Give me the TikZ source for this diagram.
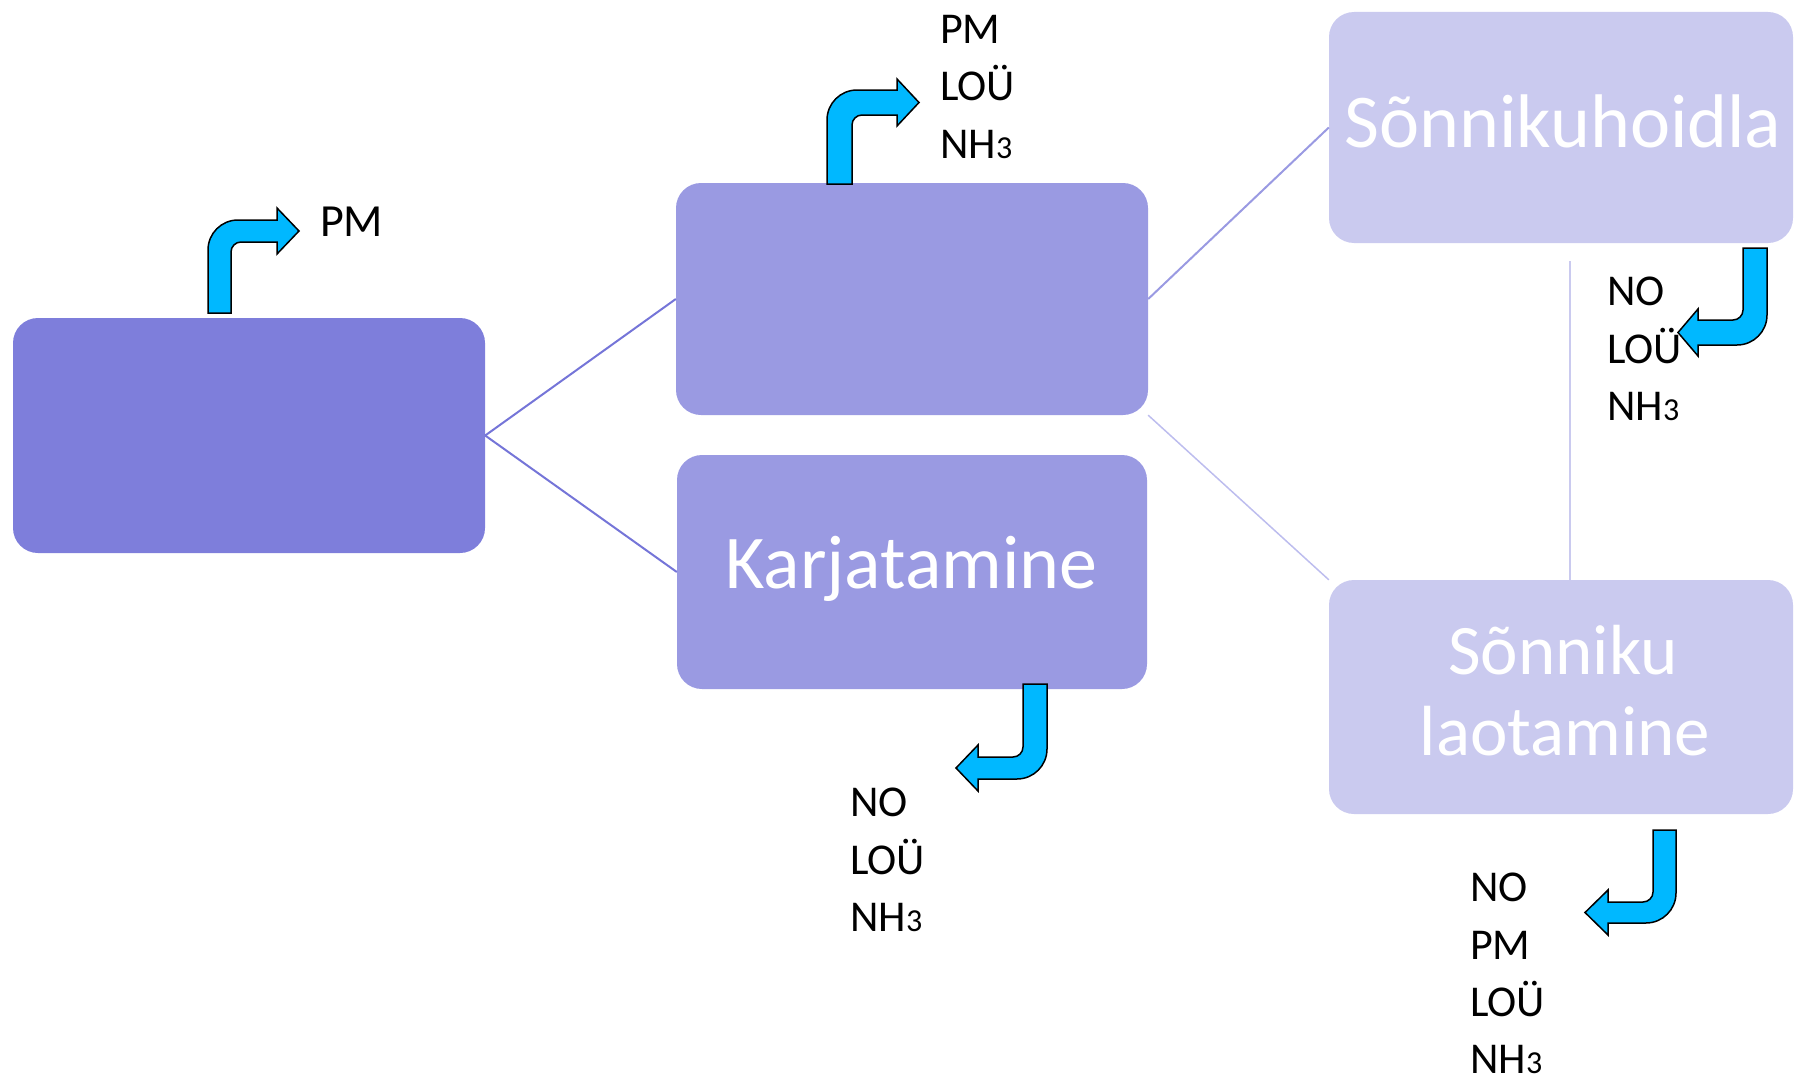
\documentclass[tikz,border=0pt]{standalone}
\usepackage{fontspec}
\setmainfont{Carlito}
\definecolor{colA}{HTML}{7E7EDB}
\definecolor{colB}{HTML}{9A9AE2}
\definecolor{colD}{HTML}{CACAEF}
\definecolor{arrowcyan}{HTML}{00B8FF}
\definecolor{lineA}{HTML}{7575D8}
\definecolor{lineB}{HTML}{9A9AE2}
\definecolor{lineC}{HTML}{BDBDEE}
\newcommand\nhthree{NH{\fontsize{32pt}{32pt}\selectfont 3}}
\tikzset{
  box/.style={draw=none, rounded corners=25pt, inner sep=0pt},
  boxtext/.style={text=white, font=\fontsize{76pt}{81pt}\selectfont, inner sep=0pt, anchor=base},
  gas/.style={font=\fontsize{44pt}{57.3pt}\selectfont, align=left, inner sep=0pt, anchor=north west},
  bent/.style={fill=arrowcyan, draw=black, line width=1.5pt, line join=miter},
  conn/.style={line width=2pt}
}
\begin{document}
\begin{tikzpicture}[x=1pt,y=-1pt]
\useasboundingbox (0,0) rectangle (1794,1081);
% boxes
\node[box, fill=colA, minimum width=472pt, minimum height=235pt] (A) at (249,435.5) {};
\node[box, fill=colB, minimum width=472pt, minimum height=232pt] (B) at (912,299) {};
\node[box, fill=colB, minimum width=470pt, minimum height=234pt] (C) at (912,572) {};
\node[box, fill=colD, minimum width=464pt, minimum height=231pt] (D) at (1561,127.5) {};
\node[box, fill=colD, minimum width=464pt, minimum height=234pt] (E) at (1561,697) {};
% box texts
\node[boxtext] (tC) at (911.5,588) {Karjatamine};
\node[boxtext] (tD) at (1563,147) {Sõnnikuhoidla};
\node[boxtext, font=\fontsize{71pt}{81pt}\selectfont] (tE1) at (1563,674) {Sõnniku};
\node[boxtext, font=\fontsize{71pt}{81pt}\selectfont] (tE2) at (1565,755) {laotamine};
% connectors
\draw[conn, lineA] (A.east) -- (B.west);
\draw[conn, lineA] (A.east) -- (C.west);
\draw[conn, lineB] (B.east) -- (D.west);
\draw[conn, lineC, line width=1.5pt] (B.south east) -- (E.north west);
\coordinate (v1) at (1570,261);
\draw[conn, colD] (v1) -- (v1 |- E.north);
% bent arrows
\draw[bent] (208,313) -- (208,250) .. controls (208,233.4) and (221.4,220) .. (238,220) -- (277,220) -- (277,208) -- (299,231) -- (277,254) -- (277,242) -- (241,242) .. controls (235.5,242) and (231,246.5) .. (231,252) -- (231,313) -- cycle;
\draw[bent] (827,184) -- (827,120) .. controls (827,103.4) and (840.4,90) .. (857,90) -- (897,90) -- (897,79) -- (919,102.5) -- (897,126) -- (897,115) -- (862,115) .. controls (856.5,115) and (852,119.5) .. (852,125) -- (852,184) -- cycle;
\draw[bent] (1743,248) -- (1767,248) -- (1767,315) .. controls (1767,331.6) and (1753.6,345) .. (1737,345) -- (1698,345) -- (1698,356) -- (1678,332.5) -- (1698,309) -- (1698,320) -- (1733,320) .. controls (1738.5,320) and (1743,315.5) .. (1743,310) -- cycle;
\draw[bent] (1023,684) -- (1047,684) -- (1047,749) .. controls (1047,765.6) and (1033.6,779) .. (1017,779) -- (978,779) -- (978,791) -- (956,768) -- (978,745) -- (978,757) -- (1013,757) .. controls (1018.5,757) and (1023,752.5) .. (1023,747) -- cycle;
\draw[bent] (1653,830) -- (1676,830) -- (1676,893) .. controls (1676,909.6) and (1662.6,923) .. (1646,923) -- (1608,923) -- (1608,935) -- (1585,912.5) -- (1608,890) -- (1608,902) -- (1643,902) .. controls (1648.5,902) and (1653,897.5) .. (1653,892) -- cycle;
% gas labels
\node[gas, font=\fontsize{46pt}{57.3pt}\selectfont] (g1) at (320,207) {PM};
\node[gas] (g2) at (940,15) {PM\\LOÜ\\\nhthree};
\node[gas] (g3) at (1607,277) {NO\\LOÜ\\\nhthree};
\node[gas] (g4) at (850,788) {NO\\LOÜ\\\nhthree};
\node[gas] (g5) at (1470,873) {NO\\PM\\LOÜ\\\nhthree};
\end{tikzpicture}
\end{document}
